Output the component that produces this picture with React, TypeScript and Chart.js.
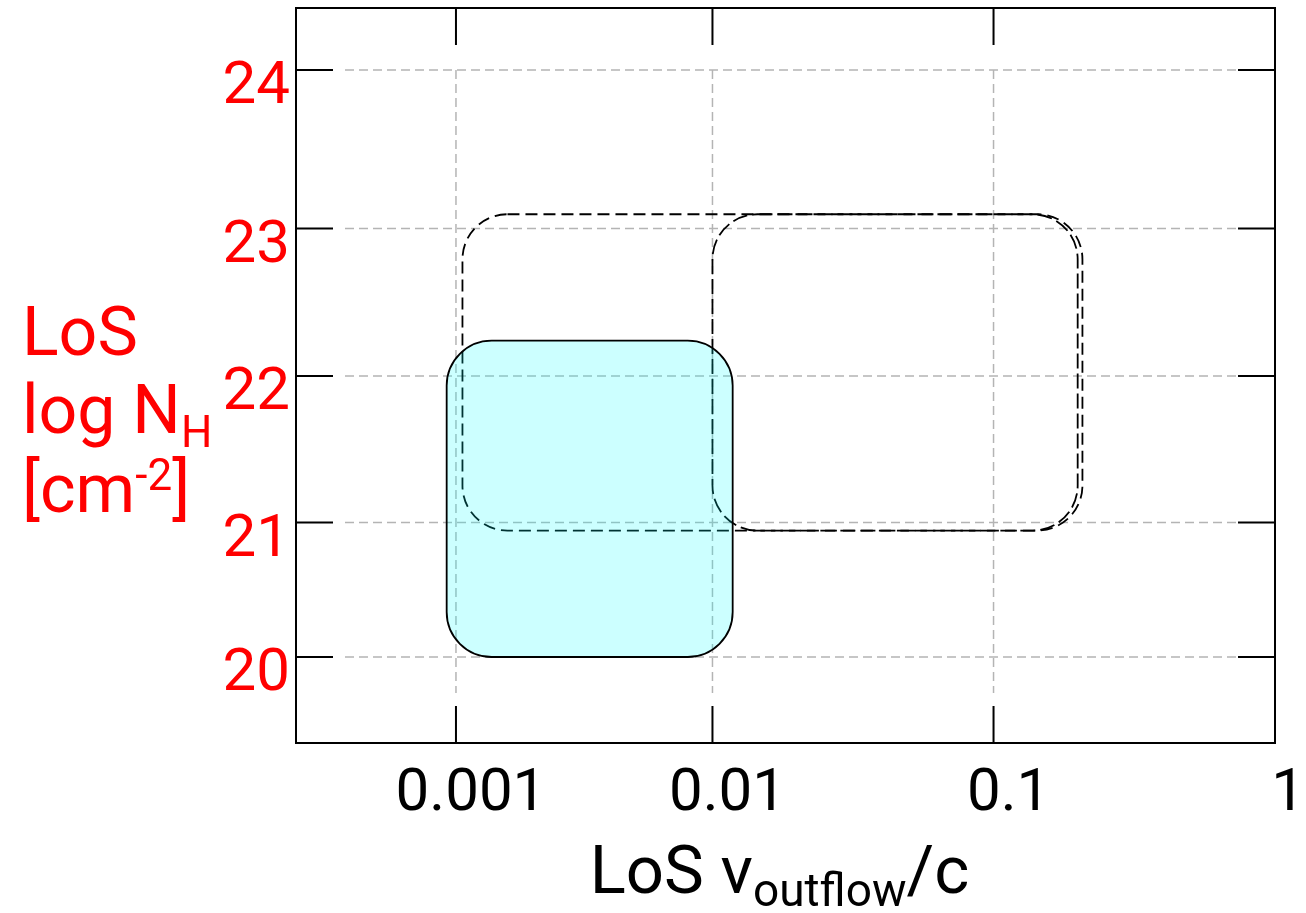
import React, { useEffect, useRef } from 'react';
import { Chart, LinearScale, registerables } from 'chart.js';

// ---------------- data ----------------
const xTickValues = [0.001, 0.01, 0.1, 1];
const xTickLabels = ['0.001', '0.01', '0.1', '1'];
const yTickValues = [20, 21, 22, 23, 24];
const yTickLabels = ['20', '21', '22', '23', '24'];

const boxNames = ['Region A', 'Region B', 'Observed'];
const boxVMin = [0.00106, 0.01, 0.00092];
const boxVMax = [0.208, 0.2, 0.0118];
const boxNHMin = [20.94, 20.94, 20.0];
const boxNHMax = [23.09, 23.09, 22.24];

// ---------------- axis calibration (non-uniform drawn axes) ----------------
const AXIS_KNOTS: Record<string, { log: boolean; knots: number[][] }> = {
  x: { log: true, knots: [[-3.623, 0], [-3, 0.1634], [-2, 0.4254], [-1, 0.7125], [0, 0.998], [0.007, 1]] },
  y: { log: false, knots: [[19.363, 0], [20, 0.117], [21, 0.3], [22, 0.4993], [23, 0.7], [24, 0.9156], [24.392, 1]] },
};

class PiecewiseScale extends LinearScale {
  static id = 'piecewise';
  static defaults = (LinearScale as any).defaults;
  cfg() {
    return AXIS_KNOTS[(this as any).id];
  }
  determineDataLimits() {
    const c = this.cfg();
    const k = c.knots;
    const f = (v: number) => (c.log ? Math.pow(10, v) : v);
    (this as any).min = f(k[0][0]);
    (this as any).max = f(k[k.length - 1][0]);
  }
  buildTicks() {
    const vals = (this as any).id === 'x' ? xTickValues : yTickValues;
    return vals.map((v) => ({ value: v }));
  }
  getPixelForValue(value: number) {
    const c = this.cfg();
    const k = c.knots;
    const t = c.log ? Math.log10(value) : value;
    let i = 0;
    while (i < k.length - 2 && t > k[i + 1][0]) i++;
    const [v0, f0] = k[i];
    const [v1, f1] = k[i + 1];
    const frac = f0 + ((t - v0) / (v1 - v0)) * (f1 - f0);
    return this.getPixelForDecimal(frac);
  }
  getValueForPixel(pixel: number) {
    const c = this.cfg();
    const k = c.knots;
    const d = this.getDecimalForPixel(pixel);
    let i = 0;
    while (i < k.length - 2 && d > k[i + 1][1]) i++;
    const [v0, f0] = k[i];
    const [v1, f1] = k[i + 1];
    const t = v0 + ((d - f0) / (f1 - f0)) * (v1 - v0);
    return c.log ? Math.pow(10, t) : t;
  }
}

Chart.register(...registerables, PiecewiseScale as any);

const FONT = 'Roboto, "Noto Sans", "DejaVu Sans", sans-serif';

function roundRectPath(ctx: CanvasRenderingContext2D, x: number, y: number, w: number, h: number, r: number) {
  const rr = Math.min(r, w / 2, h / 2);
  ctx.beginPath();
  ctx.moveTo(x + rr, y);
  ctx.lineTo(x + w - rr, y);
  ctx.arcTo(x + w, y, x + w, y + rr, rr);
  ctx.lineTo(x + w, y + h - rr);
  ctx.arcTo(x + w, y + h, x + w - rr, y + h, rr);
  ctx.lineTo(x + rr, y + h);
  ctx.arcTo(x, y + h, x, y + h - rr, rr);
  ctx.lineTo(x, y + rr);
  ctx.arcTo(x, y, x + rr, y, rr);
  ctx.closePath();
}

type Part = { text: string; size: number; dy: number };
function drawRich(ctx: CanvasRenderingContext2D, parts: Part[], x: number, y: number, align: 'left' | 'center') {
  ctx.textAlign = 'left';
  ctx.textBaseline = 'alphabetic';
  const widths = parts.map((p) => {
    ctx.font = `${p.size}px ${FONT}`;
    return ctx.measureText(p.text).width;
  });
  const total = widths.reduce((a, b) => a + b, 0);
  let cx = align === 'center' ? x - total / 2 : x;
  parts.forEach((p, i) => {
    ctx.font = `${p.size}px ${FONT}`;
    ctx.fillText(p.text, cx, y + p.dy);
    cx += widths[i];
  });
}

const framePlugin = {
  id: 'framePlugin',
  beforeDatasetsDraw(chart: any) {
    const { ctx, chartArea: a, scales } = chart;
    const x = scales.x;
    const y = scales.y;
    // dashed grid (sub-region)
    ctx.save();
    ctx.strokeStyle = '#b4b4b4';
    ctx.lineWidth = 1.5;
    ctx.setLineDash([9, 5]);
    const gx0 = a.left + 49;
    const gx1 = a.right - 37;
    const gy0 = a.top + 62;
    const gy1 = a.bottom - 50;
    yTickValues.forEach((v) => {
      const py = y.getPixelForValue(v);
      ctx.beginPath();
      ctx.moveTo(gx0, py);
      ctx.lineTo(gx1, py);
      ctx.stroke();
    });
    xTickValues.forEach((v) => {
      const px = x.getPixelForValue(v);
      if (px > a.right - 5) return;
      ctx.beginPath();
      ctx.moveTo(px, gy0);
      ctx.lineTo(px, gy1);
      ctx.stroke();
    });
    ctx.restore();

    // rounded boxes from datasets
    chart.data.datasets.forEach((ds: any) => {
      const p0 = ds.data[0];
      const p1 = ds.data[1];
      const l = x.getPixelForValue(p0.x);
      const r = x.getPixelForValue(p1.x);
      const b = y.getPixelForValue(p0.y);
      const t = y.getPixelForValue(p1.y);
      ctx.save();
      roundRectPath(ctx, l, t, r - l, b - t, ds.cornerRadius);
      if (ds.boxFill) {
        ctx.fillStyle = ds.boxFill;
        ctx.fill();
      }
      ctx.setLineDash(ds.boxDash || []);
      ctx.lineWidth = ds.boxLineWidth;
      ctx.strokeStyle = ds.boxStroke;
      ctx.stroke();
      ctx.restore();
    });
  },
  afterDraw(chart: any) {
    const { ctx, chartArea: a, scales } = chart;
    const x = scales.x;
    const y = scales.y;
    ctx.save();
    ctx.strokeStyle = '#000';
    ctx.lineWidth = 2;
    ctx.setLineDash([]);
    ctx.strokeRect(a.left, a.top, a.right - a.left, a.bottom - a.top);
    const TL = 37;
    xTickValues.forEach((v) => {
      const px = x.getPixelForValue(v);
      if (px > a.right - 5) return;
      ctx.beginPath();
      ctx.moveTo(px, a.top);
      ctx.lineTo(px, a.top + TL);
      ctx.moveTo(px, a.bottom);
      ctx.lineTo(px, a.bottom - TL);
      ctx.stroke();
    });
    yTickValues.forEach((v) => {
      const py = y.getPixelForValue(v);
      ctx.beginPath();
      ctx.moveTo(a.left, py);
      ctx.lineTo(a.left + TL, py);
      ctx.moveTo(a.right, py);
      ctx.lineTo(a.right - TL, py);
      ctx.stroke();
    });

    // x title
    ctx.fillStyle = '#000';
    drawRich(
      ctx,
      [
        { text: 'LoS v', size: 67, dy: 0 },
        { text: 'outflow', size: 46, dy: 13 },
        { text: '/c', size: 67, dy: 0 },
      ],
      (a.left + a.right) / 2 - 6,
      893,
      'center'
    );

    // y title (three lines)
    ctx.fillStyle = '#ff0000';
    drawRich(ctx, [{ text: 'LoS', size: 68, dy: 0 }], 22, 355, 'left');
    drawRich(
      ctx,
      [
        { text: 'log N', size: 68, dy: 0 },
        { text: 'H', size: 44, dy: 14 },
      ],
      22,
      433,
      'left'
    );
    drawRich(
      ctx,
      [
        { text: '[cm', size: 68, dy: 0 },
        { text: '-2', size: 44, dy: -22 },
        { text: ']', size: 68, dy: 0 },
      ],
      22,
      512,
      'left'
    );
    ctx.restore();
  },
};

export default function App() {
  const canvasRef = useRef<HTMLCanvasElement | null>(null);

  useEffect(() => {
    const canvas = canvasRef.current;
    if (!canvas) return;

    const styles = [
      { boxFill: null, boxStroke: '#000', boxDash: [12, 6], boxLineWidth: 1.8 },
      { boxFill: null, boxStroke: '#000', boxDash: [15, 5], boxLineWidth: 1.8 },
      { boxFill: 'rgba(0, 255, 255, 0.2)', boxStroke: '#000', boxDash: [], boxLineWidth: 1.8 },
    ];

    const datasets = boxNames.map((name, i) => ({
      label: name,
      data: [
        { x: boxVMin[i], y: boxNHMin[i] },
        { x: boxVMax[i], y: boxNHMax[i] },
      ],
      showLine: false,
      pointRadius: 0,
      cornerRadius: 45,
      ...styles[i],
    }));

    const zeroPad = (s: any) => {
      s.paddingLeft = 0;
      s.paddingRight = 0;
      s.paddingTop = 0;
      s.paddingBottom = 0;
    };

    const chart = new Chart(canvas, {
      type: 'scatter',
      data: { datasets: datasets as any },
      plugins: [framePlugin],
      options: {
        animation: false,
        responsive: true,
        maintainAspectRatio: false,
        events: [],
        layout: { padding: { left: 0, top: 8, right: 31, bottom: 0 } },
        plugins: { legend: { display: false }, tooltip: { enabled: false } },
        scales: {
          x: {
            type: 'piecewise' as any,
            position: 'bottom',
            grid: { display: false, drawTicks: false },
            border: { display: false },
            ticks: {
              autoSkip: false,
              maxRotation: 0,
              minRotation: 0,
              padding: 16,
              labelOffset: 15,
              color: '#000',
              font: { family: FONT, size: 60 },
              callback: (_v: any, i: number) => xTickLabels[i],
            },
            afterFit: (s: any) => {
              s.height = 170;
              zeroPad(s);
            },
          } as any,
          y: {
            type: 'piecewise' as any,
            position: 'left',
            grid: { display: false, drawTicks: false },
            border: { display: false },
            ticks: {
              autoSkip: false,
              padding: 6,
              labelOffset: 18,
              color: '#ff0000',
              font: { family: FONT, size: 60 },
              callback: (_v: any, i: number) => yTickLabels[i],
            },
            afterFit: (s: any) => {
              s.width = 296;
              zeroPad(s);
            },
          } as any,
        },
      },
    });

    return () => chart.destroy();
  }, []);

  return (
    <div style={{ position: 'fixed', left: 0, top: 0, width: 1306, height: 913, background: '#fff' }}>
      <canvas ref={canvasRef} />
    </div>
  );
}
